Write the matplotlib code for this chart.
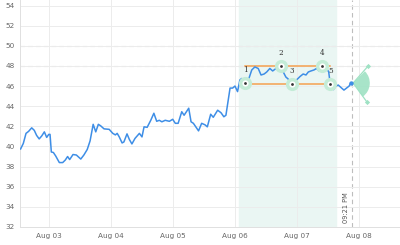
import matplotlib
matplotlib.use("Agg")
import matplotlib.pyplot as plt
import matplotlib.dates as mdates
from matplotlib.patches import Wedge
from matplotlib.transforms import Affine2D, ScaledTranslation
import pandas as pd

# hours since Aug 02 00:00 and price
hours = [13.0, 14.05, 15.1, 16.1, 17.3, 18.3, 19.2, 20.2, 21.2, 22.2, 23.1, 23.9,
         24.4, 24.9, 25.7, 26.6, 28.0, 29.3, 30.3, 31.2, 32.0, 33.3, 34.6, 36.3,
         37.5, 38.8, 39.9, 41.1, 42.1, 43.1, 44.0, 45.3, 47.3, 48.7, 49.7, 50.4,
         51.2, 52.3, 53.0, 54.2, 55.1, 56.1, 57.3, 59.0, 60.0, 60.8, 62.0, 63.4,
         64.6, 65.7, 66.7, 67.7, 69.0, 70.6, 71.9, 72.9, 74.0, 75.4, 76.3, 78.1,
         79.0, 79.9, 81.9, 83.1, 84.4, 85.3, 86.6, 87.6, 89.3, 90.6, 91.7, 92.5,
         94.1, 95.1, 96.0, 97.0, 97.9, 98.6, 99.2, 99.9, 101.2, 102.5, 103.7,
         105.0, 106.1, 107.3, 108.3, 109.5, 110.6, 111.9, 113.7, 114.7, 115.7,
         116.6, 117.9, 119.6, 121.2, 122.4, 123.5, 124.4, 125.4, 126.6, 127.6,
         128.6, 129.7, 131.5, 132.3, 132.9, 134.1, 135.1, 136.0, 137.3, 138.2,
         139.2, 140.2, 140.8]
price = [39.75, 40.3, 41.3, 41.5, 41.85, 41.6, 41.1, 40.75, 41.05, 41.45, 40.9, 41.2,
         41.2, 39.45, 39.4, 39.05, 38.4, 38.4, 38.65, 39.0, 38.7, 39.2, 39.15, 38.75,
         39.15, 39.7, 40.55, 42.2, 41.45, 42.2, 42.05, 41.75, 41.7, 41.3, 41.15, 41.3,
         40.95, 40.35, 40.45, 41.25, 40.7, 40.25, 40.8, 41.3, 40.95, 41.95, 41.9, 42.6,
         43.3, 42.5, 42.6, 42.45, 42.6, 42.5, 42.7, 42.3, 42.3, 43.45, 43.1, 43.8,
         42.45, 42.3, 41.55, 42.3, 42.15, 41.95, 43.2, 42.9, 43.6, 43.35, 42.95, 43.1,
         45.8, 45.8, 46.0, 45.45, 46.6, 46.75, 46.5, 46.27, 46.6, 47.6, 47.9,
         47.75, 47.1, 47.2, 47.4, 47.75, 47.5, 47.75, 48.0, 47.4, 46.9,
         46.7, 46.17, 46.55, 46.95, 47.2, 47.1, 47.4, 47.5, 47.6, 47.75,
         47.5, 48.0, 47.75, 47.4, 46.17, 45.65, 46.0, 46.1, 45.8, 45.6,
         45.8, 46.0, 46.3]

# pattern pivots
pivot_hours = [99.9, 113.7, 117.9, 129.7, 132.9]
pivot_price = [46.27, 48.0, 46.17, 48.0, 46.17]
pivot_labels = ["1", "2", "3", "4", "5"]
top_level = 48.0
bottom_level = 46.17

shade_hours = (97.5, 135.0)
marker_hours = 141.35          # Aug 07 09:21 PM
proj_hours = [147.6, 147.0]
proj_price = [48.0, 44.45]

base = pd.Timestamp("2024-08-02")
t = lambda h: base + pd.to_timedelta(h, unit="h")

fig = plt.figure(figsize=(4, 2.45), dpi=100)
ax = fig.add_axes([0.05, 0.0735, 0.95, 0.9265])

ax.set_xlim(t(12.77), t(159.9))
ax.set_ylim(32, 54.55)

ax.axvspan(t(shade_hours[0]), t(shade_hours[1]), color="#eaf6f3", zorder=0)

ax.set_yticks(range(32, 55, 2))
ax.xaxis.set_major_locator(mdates.DayLocator())
ax.xaxis.set_major_formatter(mdates.DateFormatter("%b %d"))
ax.grid(True, color="#ececec", lw=0.7, zorder=0)
ax.tick_params(length=0, labelsize=5.2, colors="#666666", pad=4)
for s in ["top", "right"]:
    ax.spines[s].set_visible(False)
for s in ["left", "bottom"]:
    ax.spines[s].set_color("#e0e0e0")
    ax.spines[s].set_linewidth(0.7)

for lvl in (48, 50):
    ax.axhline(lvl, color="#d0d0d0", lw=0.8, ls=(0, (4, 3)), zorder=1)
ax.axvline(t(marker_hours), color="#bdbdbd", lw=0.8, ls=(0, (4, 3)), zorder=1)
ax.text(t(marker_hours - 1.2), 32.4, "09:21 PM", rotation=90, fontsize=4.8,
        color="#555555", ha="right", va="bottom")

times = [t(h) for h in hours]
ax.plot(times, price, color="#3e8ee6", lw=1.1, zorder=3)

# trend lines
ax.plot([t(pivot_hours[0]), t(pivot_hours[-1])], [top_level, top_level],
        color="#f5a04f", lw=1.1, zorder=2)
ax.plot([t(pivot_hours[0]), t(pivot_hours[-1] + 1.5)], [bottom_level, bottom_level],
        color="#f5a04f", lw=1.1, zorder=2)

px = [t(h) for h in pivot_hours]
ax.scatter(px, pivot_price, s=90, color="#c4ecd7", zorder=4, lw=0)
ax.scatter(px, pivot_price, s=20, color="white", zorder=5, lw=0)
ax.scatter(px, pivot_price, s=4, color="#333333", zorder=6, lw=0)
for x, y, lab in zip(px, pivot_price, pivot_labels):
    ax.annotate(lab, (x, y), xytext=(0, 6.5), textcoords="offset points",
                ha="center", va="bottom", fontsize=5.2, color="#333333",
                family="DejaVu Serif")

# projection wedge
apex_h, apex_p = marker_hours + 0.4, 46.3
ax.plot([t(hours[-1]), t(apex_h)], [price[-1], apex_p], color="#f5a04f", lw=1.1, zorder=2)
ax.scatter([t(hours[-1])], [price[-1]], s=10, color="#3e8ee6", zorder=6, lw=0)
apex_num = mdates.date2num(t(apex_h))
tr = Affine2D().scale(fig.dpi / 72) + ScaledTranslation(apex_num, apex_p, ax.transData)
ax.add_patch(Wedge((0, 0), 12, -54, 45, color="#9fe2c4", alpha=0.9, lw=0,
                   transform=tr, zorder=4))
for h, p in zip(proj_hours, proj_price):
    ax.plot([t(apex_h), t(h)], [apex_p, p], color="#9fe2c4", lw=0.9, zorder=4)
    ax.scatter([t(h)], [p], s=7, marker="D", color="#9fe2c4", zorder=4, lw=0)

fig.savefig("out.png", dpi=100)
